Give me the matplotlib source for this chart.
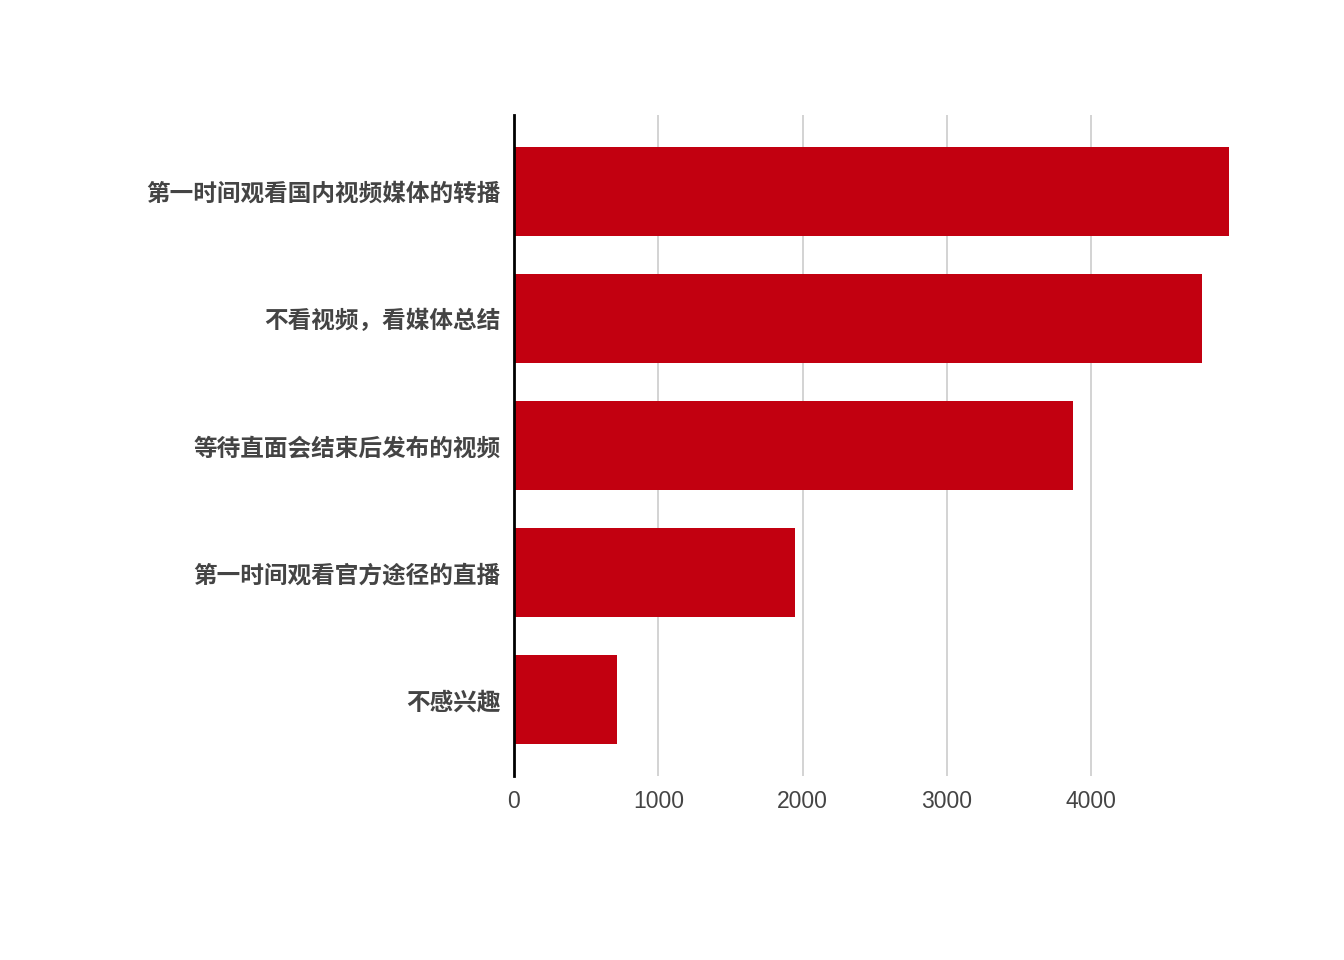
import matplotlib
matplotlib.use("Agg")
import matplotlib.pyplot as plt

categories = ["第一时间观看国内视频媒体的转播", "不看视频，看媒体总结", "等待直面会结束后发布的视频",
              "第一时间观看官方途径的直播", "不感兴趣"]
values = [4955, 4770, 3875, 1948, 716]
xticks = [0, 1000, 2000, 3000, 4000]

plt.rcParams['font.family'] = ['Noto Sans CJK SC', 'DejaVu Sans']

fig = plt.figure(figsize=(13.44, 9.6), dpi=100)
ax = fig.add_axes([514/1344, 1-776/960, (1235.5-514)/1344, (776-115)/960])
ypos = list(range(len(categories)))
ax.barh(ypos, values, height=0.70, color="#C20010", zorder=2)
ax.set_ylim(4.6, -0.6)
ax.set_xlim(0, 5000)
ax.set_xticks(xticks)
ax.set_xticklabels([str(t) for t in xticks], fontsize=16.5, color="#444444", family=["Liberation Sans", "DejaVu Sans"])
ax.set_yticks(ypos)
ax.set_yticklabels(categories, fontsize=17, fontweight="bold", color="#444444")
ax.tick_params(axis="both", length=0)
ax.tick_params(axis="y", pad=9.5)
ax.tick_params(axis="x", pad=10)
ax.grid(axis="x", color="#cccccc", linewidth=1.2, zorder=0)
for s in ["top", "right", "bottom"]:
    ax.spines[s].set_visible(False)
ax.spines["left"].set_linewidth(2)
ax.spines["left"].set_color("black")
ax.spines["left"].set_zorder(3)
fig.savefig("out.png", dpi=100)
